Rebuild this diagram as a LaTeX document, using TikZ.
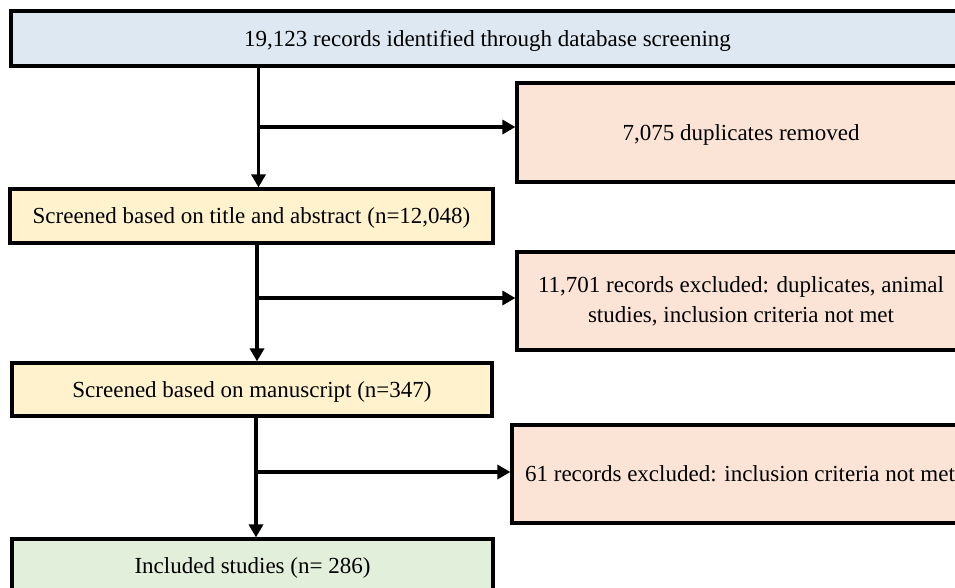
\documentclass[tikz,border=0pt]{standalone}
\usepackage{fontspec}
\setmainfont{Liberation Serif}
\usetikzlibrary{arrows.meta}

\definecolor{idblue}{HTML}{DDE8F2}
\definecolor{screenyellow}{HTML}{FFF2CC}
\definecolor{excludepeach}{HTML}{FBE4D6}
\definecolor{includegreen}{HTML}{E2EFDA}

\tikzset{
  box/.style={draw=black, line width=3.2pt, rectangle, inner sep=0pt,
    align=center, font=\fontsize{23}{30}\selectfont},
  oneline/.style={text height=20pt, text depth=5pt},
  flow/.style={line width=3.8pt, -{Triangle[width=14pt,length=13pt]}},
}

\begin{document}
\begin{tikzpicture}[x=1pt, y=-1pt]
  \useasboundingbox (0,0) rectangle (955,587);
  \clip (0,0) rectangle (955,587);
  \fill[white] (0,0) rectangle (955,587);

  % main column
  \node[box, oneline, fill=idblue, minimum width=953pt, minimum height=55pt] (ident) at (487.5,38.5)
    {19,123 records identified through database screening};
  \node[box, oneline, fill=screenyellow, minimum width=483pt, minimum height=54pt] (scrA) at (251.5,216)
    {Screened based on title and abstract (n=12,048)};
  \node[box, oneline, fill=screenyellow, minimum width=480pt, minimum height=53pt] (scrB) at (252,389.5)
    {Screened based on manuscript (n=347)};
  \node[box, oneline, fill=includegreen, minimum width=481pt, minimum height=54pt] (incl) at (252.5,566)
    {Included studies (n= 286)};

  % exclusion boxes
  \node[box, oneline, fill=excludepeach, minimum width=448pt, minimum height=99pt] (exA) at (741,132.5)
    {7,075 duplicates removed};
  \node[box, fill=excludepeach, minimum width=448pt, minimum height=98pt] (exB) at (741,301)
    {11,701 records excluded: duplicates, animal\\studies, inclusion criteria not met};
  \node[box, oneline, fill=excludepeach, minimum width=456pt, minimum height=98pt] (exC) at (740,474)
    {61 records excluded: inclusion criteria not met};

  % branch points on the trunk
  \coordinate (jA) at (258.5,127);
  \coordinate (jB) at (257,298);
  \coordinate (jC) at (256,472);

  % trunk segments
  \draw[flow] (jA |- ident.south) -- (jA |- scrA.north);
  \draw[flow] (jB |- scrA.south) -- (jB |- scrB.north);
  \draw[flow] (jC |- scrB.south) -- (jC |- incl.north);

  % side branches
  \draw[flow] (jA) -- (jA -| exA.west);
  \draw[flow] (jB) -- (jB -| exB.west);
  \draw[flow] (jC) -- (jC -| exC.west);
\end{tikzpicture}
\end{document}
